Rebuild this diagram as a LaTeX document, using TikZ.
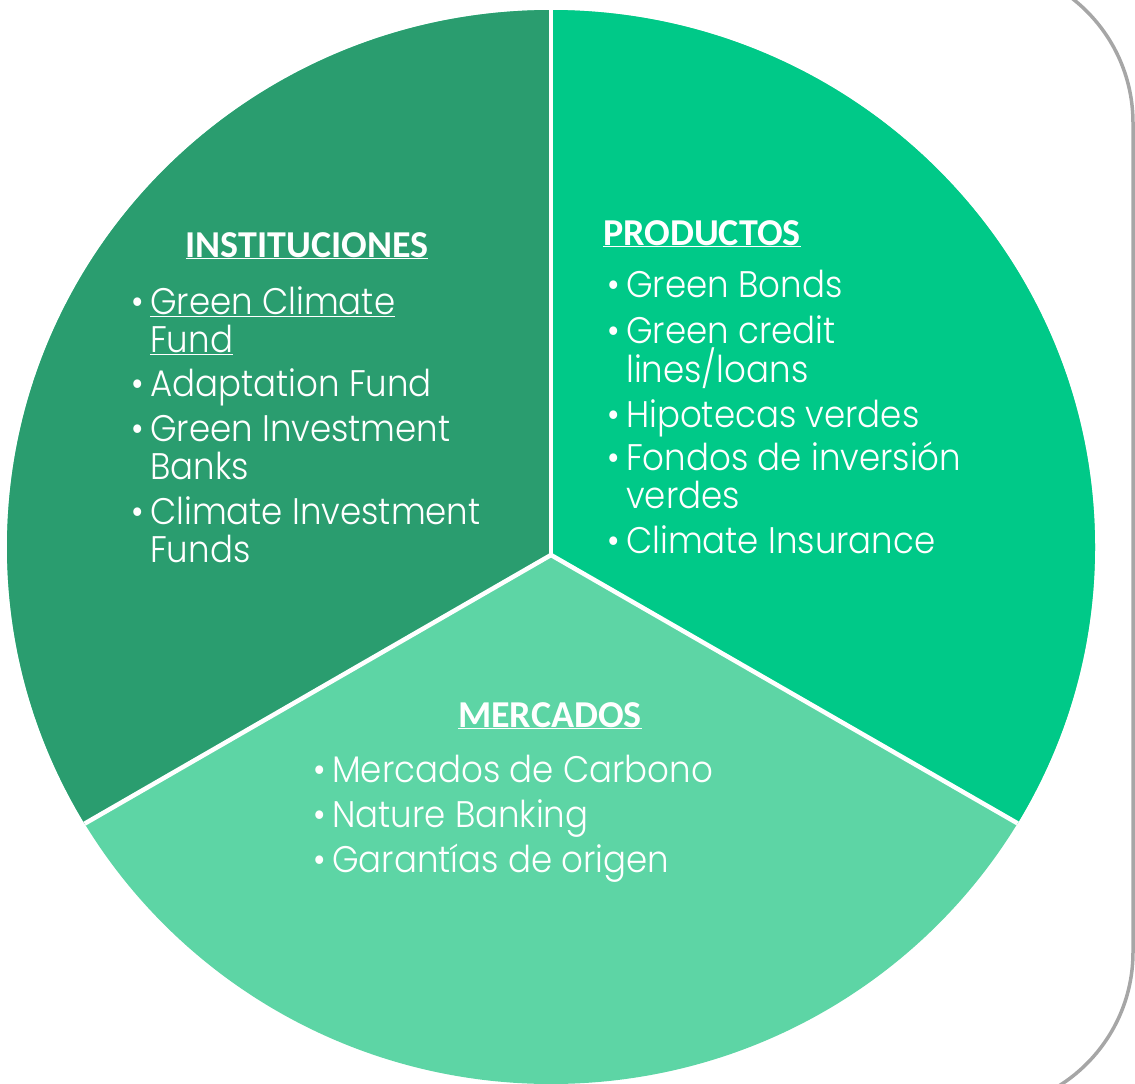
\documentclass[tikz,border=0pt]{standalone}
\usepackage{fontspec}
\usetikzlibrary{positioning}
\newfontfamily\bodyfont{Poppins Light}[FakeStretch=0.92]
\newfontfamily\headfont{Carlito}
\definecolor{instgreen}{RGB}{42,157,111}
\definecolor{prodgreen}{RGB}{0,201,136}
\definecolor{mercgreen}{RGB}{93,213,165}
\definecolor{framegray}{RGB}{166,166,166}
\newcommand{\bul}{\makebox[19pt][l]{\textbullet}}

\begin{document}
\begin{tikzpicture}[x=1pt,y=-1pt,
    head/.style = {anchor=base, inner sep=0pt, text=white, font=\headfont\bfseries\fontsize{38}{40}\selectfont},
    item/.style = {anchor=base west, inner sep=0pt, text=white, font=\bodyfont\fontsize{37}{38}\selectfont},
    divider/.style = {draw=white, line width=4.5pt},
    frame/.style = {draw=framegray, line width=3.5pt, rounded corners=158pt}]
    \useasboundingbox (0,0) rectangle (1135,1084);
    \clip (0,0) rectangle (1135,1084);
    % outer frame, only its right side shows
    \draw[frame] (-300,-35) rectangle (1133,1110);
    % the three sectors
    \coordinate (hub) at (551,555);
    \begin{scope}
        \clip (551,547) ellipse [x radius=544, y radius=537];
        \fill[mercgreen] (-100,-100) rectangle (1300,1200);
        \fill[instgreen] (hub) -- (551,-100) -- (-100,-100) -- (-100,930) -- cycle;
        \fill[prodgreen] (hub) -- (551,-100) -- (1250,-100) -- (1250,957) -- cycle;
        \draw[divider] (hub) -- (551,-100);
        \draw[divider] (hub) -- (-100,930);
        \draw[divider] (hub) -- (1250,957);
    \end{scope}
    % instituciones
    \node[head] (inst) at (307,257) {\underline{INSTITUCIONES}};
    \node[item] (inst1) at (131,314) {\bul\underline{Green Climate}};
    \node[item] (inst1b) at (150,352) {\underline{Fund}};
    \node[item] (inst2) at (131,396) {\bul Adaptation Fund};
    \node[item] (inst3) at (131,441) {\bul Green Investment};
    \node[item] (inst3b) at (150,479) {Banks};
    \node[item] (inst4) at (131,524) {\bul Climate Investment};
    \node[item] (inst4b) at (150,562) {Funds};
    % productos
    \node[head] (prod) at (702,245) {\underline{PRODUCTOS}};
    \node[item] (prod1) at (607,297) {\bul Green Bonds};
    \node[item] (prod2) at (607,343) {\bul Green credit};
    \node[item] (prod2b) at (626,382) {lines/loans};
    \node[item] (prod3) at (607,427) {\bul Hipotecas verdes};
    \node[item] (prod4) at (607,470) {\bul Fondos de inversión};
    \node[item] (prod4b) at (626,508) {verdes};
    \node[item] (prod5) at (607,553) {\bul Climate Insurance};
    % mercados
    \node[head] (merc) at (550,727) {\underline{MERCADOS}};
    \node[item] (merc1) at (313,782) {\bul Mercados de Carbono};
    \node[item] (merc2) at (313,827) {\bul Nature Banking};
    \node[item] (merc3) at (313,872) {\bul Garantías de origen};
\end{tikzpicture}
\end{document}
